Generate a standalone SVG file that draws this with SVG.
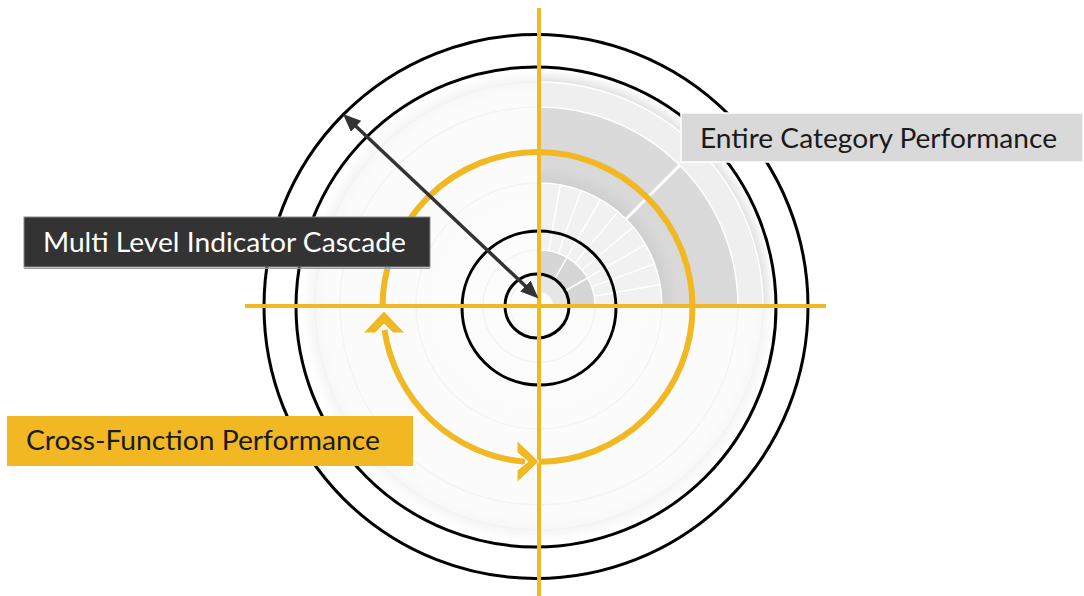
<svg xmlns="http://www.w3.org/2000/svg" width="1084" height="596" viewBox="0 0 1084 596">
  <style>
    .blk { fill: none; stroke: #000; stroke-width: 3; }
    .yl { stroke: #F2B824; stroke-width: 4; fill: none; }
    .yarc { stroke: #F2B824; stroke-width: 6; fill: none; }
    .chev { fill: #F2B824; stroke: #fff; stroke-width: 1; stroke-linejoin: miter; }
    .sep { stroke: #fff; stroke-width: 1.5; fill: none; }
    .faint { stroke: #f3f3f3; stroke-width: 1.5; fill: none; }
    .lbl { font-family: Lato, "Open Sans", "Liberation Sans", sans-serif; font-size: 27px; font-weight: 400; }
  </style>
  <defs>
    <radialGradient id="disc" cx="539" cy="306" r="236" gradientUnits="userSpaceOnUse">
      <stop offset="0" stop-color="#fcfcfc"/>
      <stop offset="0.9" stop-color="#fbfbfb"/>
      <stop offset="0.96" stop-color="#f7f7f7"/>
      <stop offset="1" stop-color="#ffffff"/>
    </radialGradient>
    <radialGradient id="rim" cx="539" cy="306" r="236" gradientUnits="userSpaceOnUse">
      <stop offset="0.94" stop-color="#dcdcdc"/>
      <stop offset="1" stop-color="#ffffff"/>
    </radialGradient>
    <radialGradient id="bandB" cx="539" cy="306" r="199" gradientUnits="userSpaceOnUse">
      <stop offset="0.62" stop-color="#cfcfcf"/>
      <stop offset="0.7" stop-color="#d9d9d9"/>
      <stop offset="1" stop-color="#dadada"/>
    </radialGradient>
    <marker id="ah" viewBox="0 0 18 15" markerWidth="18" markerHeight="15" refX="9" refY="7.5" orient="auto-start-reverse" markerUnits="userSpaceOnUse">
      <path d="M0,0 L18,7.5 L0,15 Z" fill="#333"/>
    </marker>
  </defs>

  <rect width="1084" height="596" fill="#ffffff"/>

  <!-- sunburst background -->
  <g id="sunburst">
    <circle cx="539" cy="306" r="236" fill="url(#disc)"/>
    <circle cx="539" cy="306" r="224" class="faint"/>
    <circle cx="539" cy="306" r="199" class="faint"/>
    <circle cx="539" cy="306" r="123" class="faint"/>
    <circle cx="539" cy="306" r="56" class="faint"/>
    <circle cx="539" cy="306" r="29" class="faint"/>
    <!-- upper-right quadrant -->
    <path d="M539,70 A236,236 0 0 1 775,306 L763,306 A224,224 0 0 0 539,82 Z" fill="url(#rim)"/>
    <path d="M539,82 A224,224 0 0 1 763,306 L738,306 A199,199 0 0 0 539,107 Z" fill="#efefef"/>
    <path d="M539,107 A199,199 0 0 1 738,306 L662,306 A123,123 0 0 0 539,183 Z" fill="url(#bandB)"/>
    <path d="M539,183 A123,123 0 0 1 662,306 L595,306 A56,56 0 0 0 539,250 Z" fill="#f1f1f1"/>
    <path d="M539,250 A56,56 0 0 1 595,306 L568,306 A29,29 0 0 0 539,277 Z" fill="#d6d6d6"/>
    <path d="M539,277 A29,29 0 0 1 568,306 L553,306 A14,14 0 0 0 539,292 Z" fill="#e6e6e6"/>
    <path d="M539,82 A224,224 0 0 1 763,306" class="sep"/>
    <path d="M539,107 A199,199 0 0 1 738,306" class="sep"/>
    <path d="M539,183 A123,123 0 0 1 662,306" class="sep"/>
    <path d="M539,250 A56,56 0 0 1 595,306" class="sep"/>
    <line x1="626" y1="219" x2="679.7" y2="165.3" stroke="#fff" stroke-width="3"/>
    <g class="sep">
      <line x1="548.7" y1="250.9" x2="560.4" y2="184.9"/>
      <line x1="558.2" y1="253.4" x2="581.1" y2="190.4"/>
      <line x1="567" y1="257.5" x2="600.5" y2="199.5"/>
      <line x1="575" y1="263.1" x2="618.1" y2="211.8"/>
      <line x1="581.9" y1="270" x2="633.2" y2="226.9"/>
      <line x1="587.5" y1="278" x2="645.5" y2="244.5"/>
      <line x1="591.6" y1="286.9" x2="654.6" y2="263.9"/>
      <line x1="594.2" y1="296.3" x2="660.1" y2="284.6"/>
      <line x1="553.5" y1="280.9" x2="567" y2="257.5"/>
      <line x1="564.1" y1="291.5" x2="587.5" y2="278"/>
    </g>
  </g>

  <!-- black rings -->
  <g id="rings">
    <circle cx="536" cy="306.5" r="272" class="blk"/>
    <circle cx="536" cy="307" r="240" class="blk"/>
    <circle cx="539" cy="308" r="77" class="blk"/>
    <circle cx="537" cy="306" r="32" class="blk"/>
  </g>

  <!-- axes -->
  <g id="axes">
    <line x1="539" y1="8" x2="539" y2="596" class="yl"/>
    <line x1="245" y1="306" x2="826" y2="306" class="yl"/>
  </g>

  <!-- connectors -->
  <g id="connectors">
    <path d="M537.5,462 A155,155 0 1 0 382.5,307" class="yarc"/>
    <path d="M384.5,330 A155,155 0 0 0 525,461.7" class="yarc"/>
    <polygon points="384,311 405,333 393,333 384,324 375,333 363,333" class="chev"/>
    <polygon points="539,461.5 517,440.5 517,452.5 528,461.5 517,470.5 517,482.5" class="chev"/>
    <line x1="349.5" y1="120.2" x2="532" y2="292.3" stroke="#333" stroke-width="3.5" marker-start="url(#ah)" marker-end="url(#ah)"/>
  </g>

  <!-- labels -->
  <g id="label-cascade">
    <rect x="24" y="217" width="406" height="50" fill="#333333" stroke="#8a8a8a" stroke-width="1"/>
    <line x1="24" y1="268.5" x2="430" y2="268.5" stroke="#9a9a9a" stroke-width="1"/>
    <text x="43" y="252" class="lbl" fill="#ffffff" textLength="363" lengthAdjust="spacingAndGlyphs">Multi Level Indicator Cascade</text>
  </g>
  <g id="label-cross">
    <rect x="7" y="416" width="406" height="50" fill="#F2B824"/>
    <text x="26" y="450" class="lbl" fill="#1a1a1a" textLength="354" lengthAdjust="spacingAndGlyphs">Cross-Function Performance</text>
  </g>
  <g id="label-entire">
    <rect x="681" y="113" width="402" height="49" fill="#d9d9d9" stroke="#ffffff" stroke-width="1.5"/>
    <text x="700" y="148" class="lbl" fill="#1a1a1a" textLength="357" lengthAdjust="spacingAndGlyphs">Entire Category Performance</text>
  </g>
</svg>
